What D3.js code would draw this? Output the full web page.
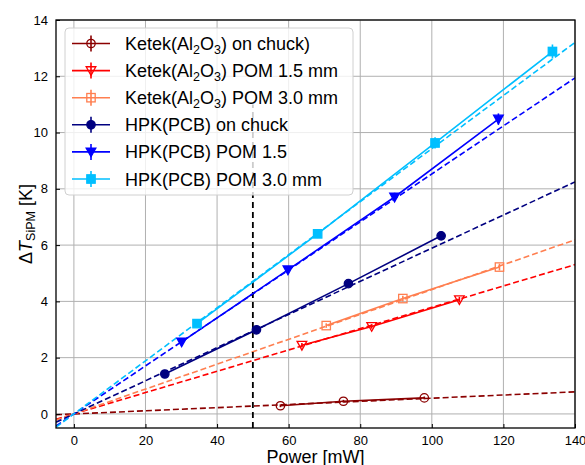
<!DOCTYPE html>
<html><head><meta charset="utf-8">
<script src="https://cdn.jsdelivr.net/npm/d3@7"></script>
<style>body{margin:0;background:#fff}svg{display:block;font-family:"Liberation Sans",Arial,sans-serif}</style>
</head><body>
<svg id="c" width="585" height="465"></svg>
<script>
// ---- data ----
const seriesNames = ["Ketek(Al2O3) on chuck)", "Ketek(Al2O3) POM 1.5 mm", "Ketek(Al2O3) POM 3.0 mm",
                     "HPK(PCB) on chuck", "HPK(PCB) POM 1.5", "HPK(PCB) POM 3.0 mm"];
const ketekChuckP = [57.7, 75.3, 97.9];
const ketekChuckT = [0.29, 0.45, 0.57];
const ketekPom15P = [63.7, 83.2, 107.7];
const ketekPom15T = [2.44, 3.11, 4.06];
const ketekPom30P = [70.5, 91.9, 118.9];
const ketekPom30T = [3.14, 4.10, 5.22];
const hpkChuckP = [25.4, 51.0, 76.7, 102.6];
const hpkChuckT = [1.42, 2.99, 4.63, 6.33];
const hpkPom15P = [30.1, 59.8, 89.6, 118.6];
const hpkPom15T = [2.56, 5.12, 7.71, 10.48];
const hpkPom30P = [34.4, 68.1, 100.9, 133.7];
const hpkPom30T = [3.21, 6.40, 9.63, 12.88];
const errT = [[0.05,0.05,0.05],[0.08,0.08,0.1],[0.08,0.1,0.12],[0.08,0.1,0.12,0.15],[0.1,0.12,0.15,0.2],[0.1,0.15,0.2,0.25]];
const fitSlopes = [0.0056, 0.0379, 0.0442, 0.0589, 0.0853, 0.0943];
const xTicks = [0, 20, 40, 60, 80, 100, 120, 140];
const yTicks = [0, 2, 4, 6, 8, 10, 12, 14];
const markerLine = 50;

const colors = ["#8b0000", "#ff0000", "#ff7f50", "#000080", "#0000ff", "#00bfff"];
const markers = ["circle", "tri", "square", "circle", "tri", "square"];
const filled = [false, false, false, true, true, true];
const P = [ketekChuckP, ketekPom15P, ketekPom30P, hpkChuckP, hpkPom15P, hpkPom30P];
const T = [ketekChuckT, ketekPom15T, ketekPom30T, hpkChuckT, hpkPom15T, hpkPom30T];

const svg = d3.select("#c");
const L = 56, R = 575, Tp = 20, B = 428;
const x = d3.scaleLinear().domain([-5, 140]).range([L, R]);
const y = d3.scaleLinear().domain([-0.5, 14]).range([B, Tp]);

svg.append("defs").append("clipPath").attr("id", "clip")
  .append("rect").attr("x", L).attr("y", Tp).attr("width", R - L).attr("height", B - Tp);

// grid
const g = svg.append("g");
g.selectAll(".gx").data(xTicks).join("line")
  .attr("x1", d => x(d)).attr("x2", d => x(d)).attr("y1", Tp).attr("y2", B)
  .attr("stroke", "#b0b0b0").attr("stroke-width", 1);
g.selectAll(".gy").data(yTicks).join("line")
  .attr("y1", d => y(d)).attr("y2", d => y(d)).attr("x1", L).attr("x2", R)
  .attr("stroke", "#b0b0b0").attr("stroke-width", 1);

const plot = svg.append("g").attr("clip-path", "url(#clip)");

// fit lines
const line = d3.line().x(d => x(d[0])).y(d => y(d[1]));
fitSlopes.forEach((s, i) => {
  plot.append("path").datum([[-5, -5 * s], [140, 140 * s]])
    .attr("d", line).attr("fill", "none").attr("stroke", colors[i])
    .attr("stroke-width", 1.6).attr("stroke-dasharray", "6,3");
});

// vertical marker line
plot.append("path").datum([[markerLine, -0.5], [markerLine, 11]])
  .attr("d", line).attr("fill", "none").attr("stroke", "#000")
  .attr("stroke-width", 1.8).attr("stroke-dasharray", "6,4");

function drawMarker(sel, type, cx, cy, color, fill, s) {
  if (type === "circle") {
    sel.append("circle").attr("cx", cx).attr("cy", cy).attr("r", s)
      .attr("fill", fill ? color : "none").attr("stroke", color).attr("stroke-width", 1.3);
  } else if (type === "square") {
    sel.append("rect").attr("x", cx - s).attr("y", cy - s).attr("width", 2 * s).attr("height", 2 * s)
      .attr("fill", fill ? color : "none").attr("stroke", color).attr("stroke-width", 1.3);
  } else {
    const h = s * 1.15;
    sel.append("path").attr("d", `M${cx - h},${cy - h * 0.8}L${cx + h},${cy - h * 0.8}L${cx},${cy + h * 1.0}Z`)
      .attr("fill", fill ? color : "none").attr("stroke", color).attr("stroke-width", 1.3);
  }
}

// data series
P.forEach((ps, i) => {
  const pts = ps.map((p, j) => [p, T[i][j]]);
  plot.append("path").datum(pts).attr("d", line).attr("fill", "none")
    .attr("stroke", colors[i]).attr("stroke-width", 1.6);
  pts.forEach((d, j) => {
    const e = errT[i][j];
    plot.append("line").attr("x1", x(d[0])).attr("x2", x(d[0]))
      .attr("y1", y(d[1] - e)).attr("y2", y(d[1] + e))
      .attr("stroke", colors[i]).attr("stroke-width", 1.6);
    drawMarker(plot, markers[i], x(d[0]), y(d[1]), colors[i], filled[i], 4.2);
  });
});

// legend
const lg = svg.append("g");
lg.append("rect").attr("x", 65).attr("y", 28).attr("width", 288).attr("height", 167)
  .attr("rx", 4).attr("fill", "#fff").attr("fill-opacity", 0.8)
  .attr("stroke", "#d0d0d0").attr("stroke-width", 1);
seriesNames.forEach((name, i) => {
  const cy = 43.5 + i * 27.1;
  lg.append("line").attr("x1", 72).attr("x2", 110).attr("y1", cy).attr("y2", cy)
    .attr("stroke", colors[i]).attr("stroke-width", 1.6);
  lg.append("line").attr("x1", 91).attr("x2", 91).attr("y1", cy - 8).attr("y2", cy + 8)
    .attr("stroke", colors[i]).attr("stroke-width", 1.6);
  drawMarker(lg, markers[i], 91, cy, colors[i], filled[i], 4.2);
  const t = lg.append("text").attr("x", 125).attr("y", cy + 6.5).attr("font-size", 18).attr("fill", "#000");
  const m = name.match(/^(.*Al)2O3(.*)$/);
  if (m) {
    t.append("tspan").text(m[1]);
    t.append("tspan").text("2").attr("font-size", 12.5).attr("dy", 4);
    t.append("tspan").text("O").attr("dy", -4);
    t.append("tspan").text("3").attr("font-size", 12.5).attr("dy", 4);
    t.append("tspan").text(m[2]).attr("dy", -4);
  } else {
    t.text(name);
  }
});

// frame and ticks
svg.append("rect").attr("x", L).attr("y", Tp).attr("width", R - L).attr("height", B - Tp)
  .attr("fill", "none").attr("stroke", "#000").attr("stroke-width", 1.3);
const xa = svg.append("g").attr("transform", `translate(0,${B})`)
  .call(d3.axisBottom(x).tickValues(xTicks).tickSize(-4).tickPadding(8).tickFormat(d3.format("d")));
const ya = svg.append("g").attr("transform", `translate(${L},0)`)
  .call(d3.axisLeft(y).tickValues(yTicks).tickSize(-4).tickPadding(8).tickFormat(d3.format("d")));
[xa, ya].forEach(a => {
  a.select(".domain").remove();
  a.selectAll("text").attr("font-size", 13).attr("font-family", "Liberation Sans, Arial, sans-serif").attr("fill", "#000");
  a.selectAll("line").attr("stroke", "#000").attr("stroke-width", 1);
});

// axis labels
svg.append("text").attr("x", (L + R) / 2).attr("y", 463).attr("text-anchor", "middle")
  .attr("font-size", 18).text("Power [mW]");
const yl = svg.append("text").attr("transform", `translate(32,${(Tp + B) / 2}) rotate(-90)`)
  .attr("text-anchor", "middle").attr("font-size", 18);
yl.append("tspan").text("Δ");
yl.append("tspan").text("T").attr("font-style", "italic");
yl.append("tspan").text("SiPM").attr("font-size", 12.5).attr("dy", 3);
yl.append("tspan").text(" [K]").attr("dy", -3);
</script>
</body></html>
